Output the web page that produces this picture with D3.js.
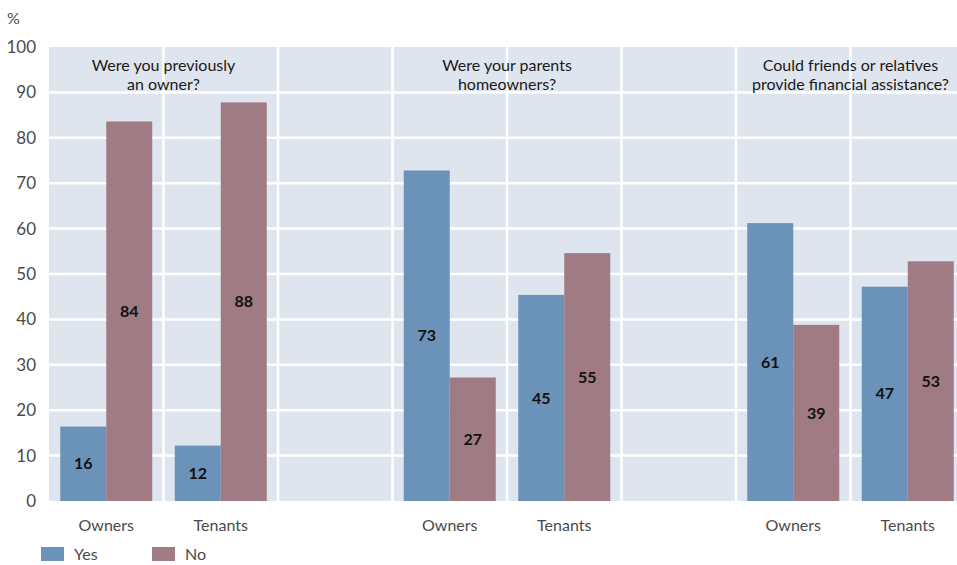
<!DOCTYPE html>
<meta charset="utf-8">
<script src="https://d3js.org/d3.v7.min.js"></script>
<style>
  body { margin: 0; background: #fff; }
  text { font-family: Lato, "Noto Sans", sans-serif; }
</style>
<div id="chart"></div>
<script>
    // data
    const groups = ["Were you previously|an owner?", "Were your parents|homeowners?", "Could friends or relatives|provide financial assistance?"];
    const slots = ["g0-Owners", "g0-Tenants", "gap0", "g1-Owners", "g1-Tenants", "gap1", "g2-Owners", "g2-Tenants"];
    const slotLabels = ["Owners", "Tenants", "", "Owners", "Tenants", "", "Owners", "Tenants"];
    const yesValues = [16.4, 12.2, null, 72.8, 45.4, null, 61.2, 47.2];
    const noValues = [83.6, 87.8, null, 27.2, 54.6, null, 38.8, 52.8];
    const yTicks = [0, 10, 20, 30, 40, 50, 60, 70, 80, 90, 100];
    const seriesNames = ["Yes", "No"];
    const colors = ["#6b93b9", "#a07b84"];

    const W = 957, H = 565;
    const margin = {top: 47, right: -8, bottom: 64, left: 49};
    const width = W - margin.left - margin.right,
        height = H - margin.top - margin.bottom;

    const svg = d3.select("#chart")
        .append("svg")
        .attr("width", W)
        .attr("height", H);

    const g = svg.append("g")
        .attr("transform", `translate(${margin.left}, ${margin.top})`);

    const x = d3.scaleBand()
        .domain(slots)
        .range([0, width])
        .padding(0);

    const inner = d3.scaleBand()
        .domain(seriesNames)
        .range([0, 92])
        .padding(0);

    const y = d3.scaleLinear()
        .domain([0, 100])
        .range([height, 0]);

    // panel background
    g.append("rect")
        .attr("width", width)
        .attr("height", height)
        .attr("fill", "#dfe5ee");

    // grid
    g.append("g")
        .selectAll("line")
        .data(yTicks.slice(1, -1))
        .join("line")
        .attr("x1", 0)
        .attr("x2", width)
        .attr("y1", d => y(d))
        .attr("y2", d => y(d))
        .attr("stroke", "#fff")
        .attr("stroke-width", 2.5);

    g.append("g")
        .selectAll("line")
        .data(slots.slice(1))
        .join("line")
        .attr("x1", d => x(d))
        .attr("x2", d => x(d))
        .attr("y1", 0)
        .attr("y2", height)
        .attr("stroke", "#fff")
        .attr("stroke-width", 2.5);

    // y axis labels
    g.append("g")
        .selectAll("text")
        .data(yTicks)
        .join("text")
        .attr("x", -13)
        .attr("y", d => y(d))
        .attr("dy", "0.35em")
        .attr("text-anchor", "end")
        .attr("font-size", 17)
        .attr("fill", "#4a4a4a")
        .text(d => d);

    svg.append("text")
        .attr("x", 7)
        .attr("y", 24)
        .attr("font-size", 16)
        .attr("fill", "#4a4a4a")
        .text("%");

    // bars
    const rows = slots.map((s, i) => ({slot: s, vals: [yesValues[i], noValues[i]]}))
        .filter(d => d.vals[0] != null);

    const cells = g.append("g")
        .selectAll("g")
        .data(rows)
        .join("g")
        .attr("transform", d => `translate(${x(d.slot) + (x.bandwidth() - 92) / 2}, 0)`);

    const bars = cells.selectAll("g")
        .data(d => d.vals.map((v, k) => ({v: v, k: k})))
        .join("g");

    bars.append("rect")
        .attr("x", d => inner(seriesNames[d.k]))
        .attr("width", inner.bandwidth())
        .attr("y", d => y(d.v))
        .attr("height", d => height - y(d.v))
        .attr("fill", d => colors[d.k]);

    bars.append("text")
        .attr("x", d => inner(seriesNames[d.k]) + inner.bandwidth() / 2)
        .attr("y", d => (y(d.v) + height) / 2)
        .attr("dy", "0.35em")
        .attr("text-anchor", "middle")
        .attr("font-size", 16)
        .attr("font-weight", "bold")
        .attr("fill", "#111")
        .text(d => Math.round(d.v));

    // group titles
    groups.forEach((t, i) => {
        const cx = x(slots[i * 3 + 1]);
        t.split("|").forEach((line, j) => {
            g.append("text")
                .attr("x", cx)
                .attr("y", 24 + j * 19)
                .attr("text-anchor", "middle")
                .attr("font-size", 16)
                .attr("fill", "#1a1a1a")
                .text(line);
        });
    });

    // x labels
    g.append("g")
        .selectAll("text")
        .data(slots)
        .join("text")
        .attr("x", d => x(d) + x.bandwidth() / 2)
        .attr("y", height + 30)
        .attr("text-anchor", "middle")
        .attr("font-size", 16)
        .attr("fill", "#4a4a4a")
        .text((d, i) => slotLabels[i]);

    // legend
    const legend = svg.append("g")
        .selectAll("g")
        .data(seriesNames)
        .join("g")
        .attr("transform", (d, i) => `translate(${41 + i * 111}, 547)`);

    legend.append("rect")
        .attr("width", 23)
        .attr("height", 14)
        .attr("fill", (d, i) => colors[i]);

    legend.append("text")
        .attr("x", 33)
        .attr("y", 13)
        .attr("font-size", 16)
        .attr("fill", "#4a4a4a")
        .text(d => d);
</script>
